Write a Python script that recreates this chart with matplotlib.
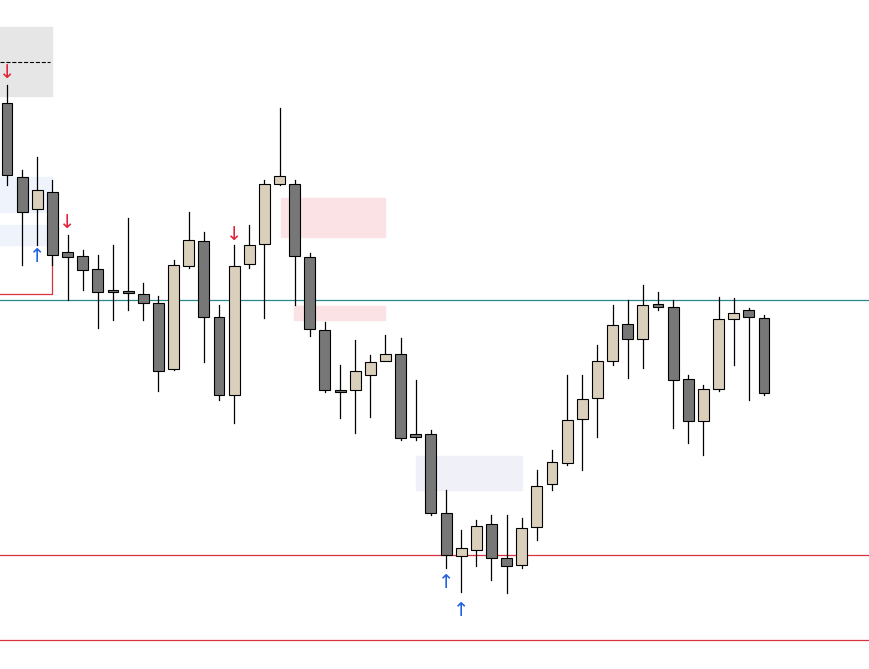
import numpy as np
import matplotlib.pyplot as plt
from matplotlib.patches import Rectangle

# prices read as screen rows (top = high), axis is inverted
opens  = [103,177,209,192,252,256,269,290,291,294,303,369,266,241,317,395,264,244,184,184,257,330,390,390,375,361,354,434,434,513,556,550,524,558,565,527,484,463,419,398,361,324,339,304,307,379,421,389,319,310,318]
closes = [175,212,190,255,257,270,292,292,293,303,371,265,240,317,395,266,245,184,176,256,329,390,391,371,362,354,438,437,513,555,548,526,558,566,528,486,462,420,399,361,325,339,305,307,380,421,389,319,313,317,393]
highs  = [85,170,157,180,235,250,255,245,218,283,296,260,212,232,305,245,225,180,108,180,253,322,365,340,355,335,338,380,430,490,530,520,515,515,518,470,450,375,375,345,305,300,285,292,300,375,385,297,298,308,315]
lows   = [185,265,245,265,300,290,328,320,310,320,391,370,268,362,400,423,268,318,185,305,336,392,418,433,417,360,440,440,515,568,592,566,580,593,568,540,490,465,470,437,365,378,368,310,428,443,455,391,365,400,395]

step = (764 - 7) / 50
x = np.arange(len(opens))

fig = plt.figure(figsize=(8.69, 6.69), dpi=100)
ax = fig.add_axes([0, 0, 1, 1])
ax.set_xlim(-7 / step, (869 - 7) / step)
ax.set_ylim(669, 0)
ax.axis("off")

def px(v):
    return (v - 7) / step

# zones
ax.add_patch(Rectangle((px(0), 27), px(52) - px(0), 69, color="#e6e6e6", zorder=0))
ax.plot([px(0), px(50)], [62, 62], color="black", ls="--", lw=0.8)
ax.add_patch(Rectangle((px(0), 177), px(52) - px(0), 35, color="#eef3fc", zorder=0))
ax.add_patch(Rectangle((px(0), 225), px(52) - px(0), 20, color="#eef3fc", zorder=0))
ax.plot([px(0), px(52), px(52)], [294, 294, 258], color="#d9323f", lw=0.9)
ax.add_patch(Rectangle((px(281), 198), px(385) - px(281), 39, color="#fbe3e5", zorder=0))
ax.add_patch(Rectangle((px(294), 306), px(385) - px(294), 14, color="#fbe3e5", zorder=0))
ax.add_patch(Rectangle((px(416), 456), px(522) - px(416), 34, color="#f0f0f8", zorder=0))

ax.axhline(300, color="#2a8a8a", lw=0.9)
ax.axhline(555, color="#d9323f", lw=0.9)
ax.axhline(640, color="#d9323f", lw=0.9)

for i in x:
    o, c, h, l = opens[i], closes[i], highs[i], lows[i]
    col = "#777777" if c > o else "#d9cfbb"
    ax.plot([i, i], [h, l], color="black", lw=0.9, zorder=2)
    top = min(o, c)
    hgt = max(abs(c - o), 2)
    ax.add_patch(Rectangle((i - 0.36, top), 0.72, hgt, facecolor=col,
                           edgecolor="black", lw=0.8, zorder=3))

for xp, yp in [(7, 73), (67, 222), (234, 234)]:
    ax.text(px(xp), yp, "↓", color="#e0233a", fontsize=14, ha="center", va="center")
for xp, yp in [(37, 257), (446, 582), (461, 610)]:
    ax.text(px(xp), yp, "↑", color="#1f5fe0", fontsize=14, ha="center", va="center")

plt.savefig("out.png")
